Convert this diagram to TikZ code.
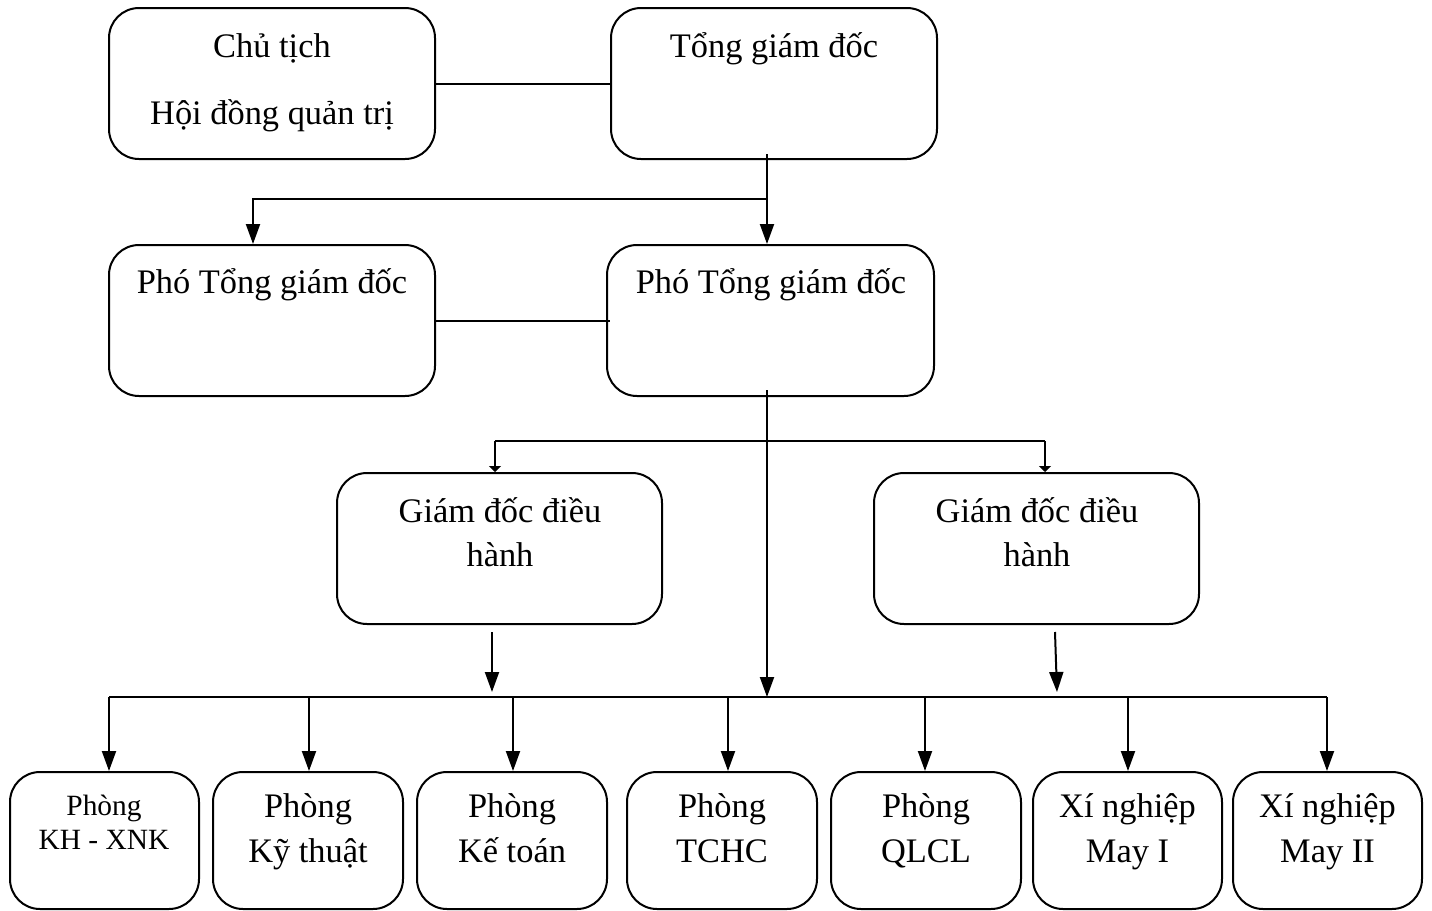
\documentclass[tikz,border=0pt]{standalone}
\usepackage{fontspec}
\setmainfont{Liberation Serif}
\usetikzlibrary{arrows.meta}
\begin{document}
\begin{tikzpicture}[x=0.5pt,y=-0.5pt,
  box/.style={draw,line width=1pt,rounded corners=15pt,inner sep=0pt},
  txt/.style={inner sep=0pt,anchor=base,font=\fontsize{17.2}{20}\selectfont},
  stxt/.style={inner sep=0pt,anchor=base,font=\fontsize{14.7}{17}\selectfont},
  ln/.style={line width=1pt},
  arr/.style={line width=1pt,-{Triangle[width=7pt,length=10pt]}},
  sarr/.style={line width=1pt,-{Triangle[width=6pt,length=3pt]}}]
\useasboundingbox (0,0) rectangle (1432,911);
% row 1
\node[box,minimum width=163pt,minimum height=75.5pt] (ct) at (272,83.5) {};
\node[box,minimum width=163pt,minimum height=75.5pt] (tgd) at (774,83.5) {};
\node[txt] (t1) at (272,57) {Chủ tịch};
\node[txt] (t2) at (272,124) {Hội đồng quản trị};
\node[txt] (t3) at (774,57) {Tổng giám đốc};
% row 2
\node[box,minimum width=163pt,minimum height=75.5pt] (p1) at (272,320.5) {};
\node[box,minimum width=163.5pt,minimum height=75.5pt] (p2) at (770.5,320.5) {};
\node[txt] (t4) at (272,293) {Phó Tổng giám đốc};
\node[txt] (t5) at (771,293) {Phó Tổng giám đốc};
% row 3
\node[box,minimum width=162.5pt,minimum height=75.5pt] (g1) at (499.5,548.5) {};
\node[box,minimum width=162.5pt,minimum height=75.5pt] (g2) at (1036.5,548.5) {};
\node[txt] (t6) at (500,522) {Giám đốc điều};
\node[txt] (t7) at (500,566) {hành};
\node[txt] (t8) at (1037,522) {Giám đốc điều};
\node[txt] (t9) at (1037,566) {hành};
% row 4
\node[box,minimum width=94.5pt,minimum height=68.5pt] (k1) at (104.5,840.5) {};
\node[box,minimum width=95pt,minimum height=68.5pt] (k2) at (308,840.5) {};
\node[box,minimum width=95pt,minimum height=68.5pt] (k3) at (512,840.5) {};
\node[box,minimum width=95pt,minimum height=68.5pt] (k4) at (722,840.5) {};
\node[box,minimum width=95pt,minimum height=68.5pt] (k5) at (926,840.5) {};
\node[box,minimum width=94.5pt,minimum height=68.5pt] (k6) at (1127.5,840.5) {};
\node[box,minimum width=94.5pt,minimum height=68.5pt] (k7) at (1327.5,840.5) {};
\node[stxt] (u1) at (104,815) {Phòng};
\node[stxt] (u2) at (104,849) {KH - XNK};
\node[txt] (u3) at (308,817) {Phòng};
\node[txt] (u4) at (308,862) {Kỹ thuật};
\node[txt] (u5) at (512,817) {Phòng};
\node[txt] (u6) at (512,862) {Kế toán};
\node[txt] (u7) at (722,817) {Phòng};
\node[txt] (u8) at (722,862) {TCHC};
\node[txt] (u9) at (926,817) {Phòng};
\node[txt] (u10) at (926,862) {QLCL};
\node[txt] (u11) at (1127.5,817) {Xí nghiệp};
\node[txt] (u12) at (1127.5,862) {May I};
\node[txt] (u13) at (1327.5,817) {Xí nghiệp};
\node[txt] (u14) at (1327.5,862) {May II};
% connectors
\draw[ln] (ct.east) -- (tgd.west);
\draw[ln] (p1.east) -- ([xshift=2pt]p2.west);
\coordinate (a1) at (767,154);
\coordinate (a2) at (767,199);
\coordinate (a3) at (253,199);
\draw[arr] (a1) -- (a1 |- p2.north);
\draw[arr] (a2) -- (a3) -- (a3 |- p1.north);
\coordinate (b1) at (767,390);
\coordinate (b2) at (767,697);
\draw[arr] (b1) -- (b2);
\coordinate (b3) at (495,441);
\coordinate (b4) at (1045,441);
\draw[ln] (b3) -- (b4);
\draw[sarr] (b3) -- (b3 |- g1.north);
\draw[sarr] (b4) -- (b4 |- g2.north);
\coordinate (c1) at (492,632);
\coordinate (c2) at (492,692);
\coordinate (c3) at (1055,632);
\coordinate (c4) at (1057,692);
\draw[arr] (c1) -- (c2);
\draw[arr] (c3) -- (c4);
\coordinate (d1) at (109,697);
\coordinate (d7) at (1327,697);
\draw[ln] (d1) -- (d7);
\foreach \x/\k in {109/k1,309/k2,513/k3,728/k4,925/k5,1128/k6,1327/k7}
  \draw[arr] (\x,697) -- (\x,697 |- \k.north);
\end{tikzpicture}
\end{document}
